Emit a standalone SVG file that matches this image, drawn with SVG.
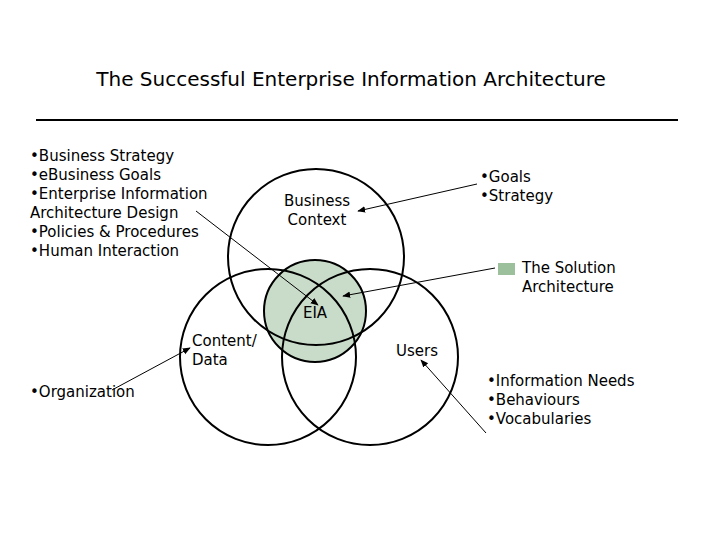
<svg xmlns="http://www.w3.org/2000/svg" width="720" height="540" viewBox="0 0 720 540">
<style>
text{font-family:"DejaVu Sans",Verdana,sans-serif;font-size:15px;fill:#000}
.c{fill:none;stroke:#000;stroke-width:2}
.a{stroke:#000;stroke-width:1;fill:none;marker-end:url(#ah)}
</style>
<defs><marker id="ah" viewBox="0 0 10 10" refX="9" refY="5" markerWidth="8" markerHeight="8" orient="auto"><path d="M0,1 L10,5 L0,9 z" fill="#000"/></marker></defs>
<rect width="720" height="540" fill="#fff"/>
<text x="351" y="86" text-anchor="middle" style="font-size:20px">The Successful Enterprise Information Architecture</text>
<line x1="36" y1="120" x2="678" y2="120" stroke="#000" stroke-width="2"/>
<g id="eia-fill"><circle cx="315" cy="311" r="51" fill="#c9dbc9" stroke="#000" stroke-width="2"/></g>
<g id="business"><circle class="c" cx="316" cy="257" r="88"/><text x="317" y="206" text-anchor="middle">Business</text><text x="317" y="225" text-anchor="middle">Context</text></g>
<g id="content"><circle class="c" cx="268" cy="357" r="88"/><text x="192" y="346">Content/</text><text x="192" y="365">Data</text></g>
<g id="users"><circle class="c" cx="370" cy="357" r="88"/><text x="396" y="356">Users</text></g>
<g id="eia"><text x="315" y="318" text-anchor="middle">EIA</text></g>
<g id="left-list"><text x="30" y="161">•Business Strategy</text><text x="30" y="180">•eBusiness Goals</text><text x="30" y="199">•Enterprise Information</text><text x="30" y="218">Architecture Design</text><text x="30" y="237">•Policies &amp; Procedures</text><text x="30" y="256">•Human Interaction</text></g>
<g id="goals"><text x="480" y="182">•Goals</text><text x="480" y="201">•Strategy</text></g>
<g id="solution"><rect x="498" y="263" width="17" height="12" fill="#9cc09c"/><text x="522" y="273">The Solution</text><text x="522" y="292">Architecture</text></g>
<g id="org"><text x="30" y="397">•Organization</text></g>
<g id="needs"><text x="487" y="386">•Information Needs</text><text x="487" y="405">•Behaviours</text><text x="487" y="424">•Vocabularies</text></g>
<g id="connectors">
<line class="a" x1="196" y1="211" x2="318" y2="305"/>
<line class="a" x1="477" y1="184" x2="358" y2="211"/>
<line class="a" x1="495" y1="268" x2="343" y2="296"/>
<line class="a" x1="112" y1="390" x2="190" y2="348"/>
<line class="a" x1="486" y1="433" x2="421" y2="360"/>
</g>
</svg>
